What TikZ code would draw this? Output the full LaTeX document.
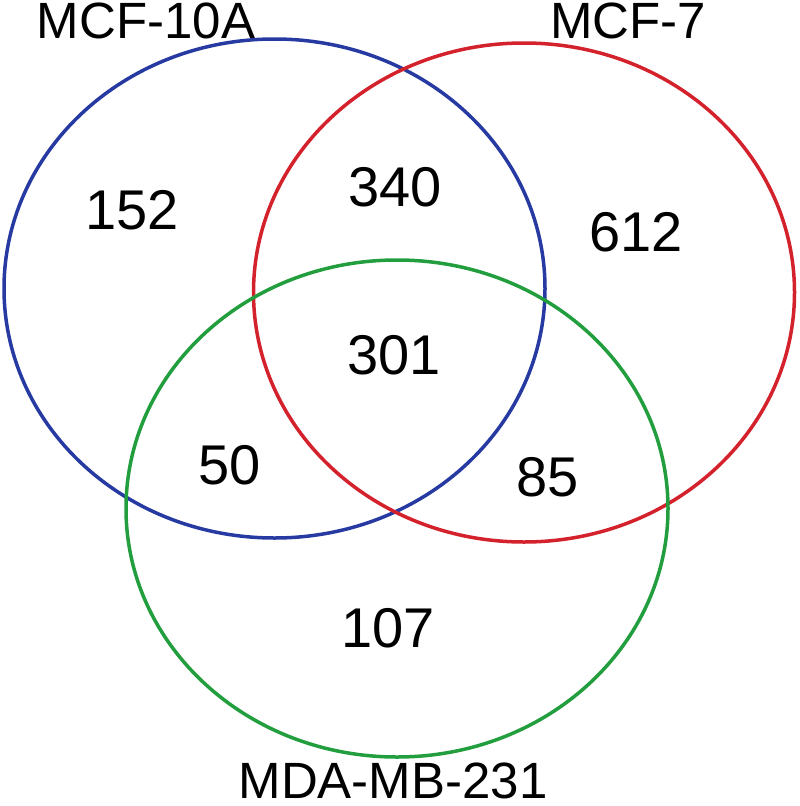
\documentclass[tikz,border=0pt]{standalone}
\usepackage{fontspec}
\setmainfont{Liberation Sans}
\usetikzlibrary{shapes.geometric}
\definecolor{vblue}{RGB}{38,58,162}
\definecolor{vred}{RGB}{212,34,44}
\definecolor{vgreen}{RGB}{34,158,62}
\begin{document}
\begin{tikzpicture}[x=1pt,y=-1pt,
  vset/.style={draw, ellipse, line width=3.5pt, inner sep=0pt, minimum width=541pt, minimum height=499pt},
  setlabel/.style={inner sep=0pt, font=\fontsize{51}{53}\selectfont},
  count/.style={inner sep=0pt, font=\fontsize{56}{58}\selectfont}]
\useasboundingbox (0,0) rectangle (800,806);
\node[vset, draw=vblue] (A) at (274.5,288.5) {};
\node[vset, draw=vred] (B) at (524,292.5) {};
\node[vset, draw=vgreen, minimum width=542pt, minimum height=497pt] (C) at (397,508.5) {};
\node[setlabel] (la) at (146,21) {MCF-10A};
\node[setlabel] (lb) at (628,21) {MCF-7};
\node[setlabel] (lc) at (393,781) {MDA-MB-231};
\node[count] (n1) at (132,210) {152};
\node[count] (n2) at (395,187) {340};
\node[count] (n3) at (636,232) {612};
\node[count] (n4) at (394,355) {301};
\node[count] (n5) at (230,465) {50};
\node[count] (n6) at (548,477) {85};
\node[count] (n7) at (388,628) {107};
\end{tikzpicture}
\end{document}
